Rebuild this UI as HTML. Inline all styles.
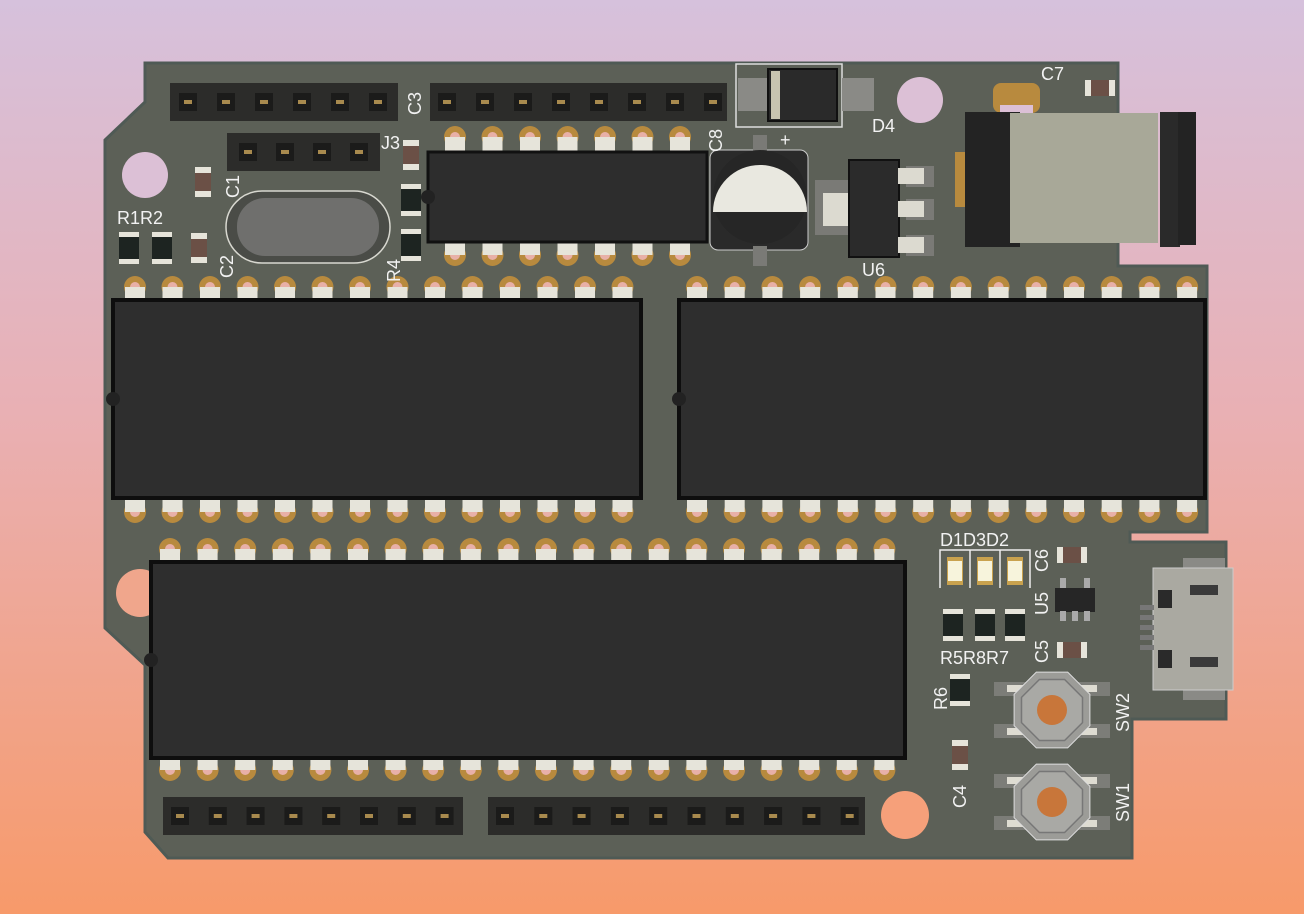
<!DOCTYPE html>
<html><head><meta charset="utf-8"><style>
html,body{margin:0;padding:0;width:1304px;height:914px;overflow:hidden;background:linear-gradient(#d6c1dc 0%,#e9b0b4 45%,#f79a6a 100%);}
svg{display:block}
text{font-family:"Liberation Sans",sans-serif;fill:#f2f2f2;font-size:18px}
</style></head><body>
<svg id="s" width="1304" height="914" viewBox="0 0 1304 914">
<path d="M145,63 L1118,63 L1118,266 L1207,266 L1207,532 L1130,532 L1130,542 L1226,542 L1226,719 L1132,719 L1132,858 L168,858 L145,832 L145,665 L105,628 L105,140 L145,102 Z" fill="#5c6057" stroke="#4f5a55" stroke-width="3"/>
<circle cx="145" cy="175" r="23" fill="#dcc0d6"/>
<circle cx="920" cy="100" r="23" fill="#dcc0d6"/>
<circle cx="140" cy="593" r="24" fill="#f0a68c"/>
<circle cx="905" cy="815" r="24" fill="#f6a07a"/>
<g id="g"></g>
<text x="117" y="224">R1R2</text>
<text x="0" y="0" transform="translate(239,198) rotate(-90)">C1</text>
<text x="0" y="0" transform="translate(233,278) rotate(-90)">C2</text>
<text x="0" y="0" transform="translate(400,282) rotate(-90)">R4</text>
<text x="0" y="0" transform="translate(421,115) rotate(-90)">C3</text>
<text x="381" y="149">J3</text>
<text x="0" y="0" transform="translate(722,152) rotate(-90)">C8</text>
<text x="780" y="146">+</text>
<text x="872" y="132">D4</text>
<text x="862" y="276">U6</text>
<text x="1041" y="80">C7</text>
<text x="940" y="546">D1D3D2</text>
<text x="0" y="0" transform="translate(1048,572) rotate(-90)">C6</text>
<text x="0" y="0" transform="translate(1048,615) rotate(-90)">U5</text>
<text x="0" y="0" transform="translate(1048,663) rotate(-90)">C5</text>
<text x="940" y="664">R5R8R7</text>
<text x="0" y="0" transform="translate(947,710) rotate(-90)">R6</text>
<text x="0" y="0" transform="translate(966,808) rotate(-90)">C4</text>
<text x="0" y="0" transform="translate(1129,732) rotate(-90)">SW2</text>
<text x="0" y="0" transform="translate(1129,822) rotate(-90)">SW1</text>
</svg>
<script>
var g=document.getElementById('g'),h='';
function R(x,y,w,hh,f,extra){h+='<rect x="'+x+'" y="'+y+'" width="'+w+'" height="'+hh+'" fill="'+f+'" '+(extra||'')+'/>';}
function header(x,y,w,n,p0,pitch){R(x,y,w,38,'#2c2c2a');for(var i=0;i<n;i++){var px=p0+i*pitch;R(px-9,y+10,18,18,'#1b1b1a');R(px-4,y+17,8,4,'#a88a4e');}}
header(170,83,228,6,188,38);header(430,83,297,8,447,38);header(227,133,153,4,248,37);
header(163,797,300,8,180,37.8);header(488,797,377,10,505,38.3);
function pins(x0,n,pitch,yt,ydn){for(var i=0;i<n;i++){var x=x0+i*pitch;
 h+='<circle cx="'+x+'" cy="'+yt+'" r="11" fill="#b88a3e"/><circle cx="'+x+'" cy="'+yt+'" r="5" fill="#e8b0a8"/>';R(x-10,yt,20,ydn,'#e6e4da');}}
function pinsB(x0,n,pitch,yb,len){for(var i=0;i<n;i++){var x=x0+i*pitch;
 h+='<circle cx="'+x+'" cy="'+yb+'" r="11" fill="#b88a3e"/><circle cx="'+x+'" cy="'+yb+'" r="5" fill="#e8b0a8"/>';R(x-10,yb-len,20,len,'#e6e4da');}}
pins(455,7,37.5,137,15);pinsB(455,7,37.5,255,13);
R(428,152,279,90,'#2d2d2d','stroke="#111" stroke-width="3"');
pins(135,14,37.5,287,13);pinsB(135,14,37.5,512,14);
R(113,300,528,198,'#2e2e2e','stroke="#0e0e0e" stroke-width="4"');
pins(697,14,37.7,287,13);pinsB(697,14,37.7,512,14);
R(679,300,526,198,'#2e2e2e','stroke="#0e0e0e" stroke-width="4"');
pins(170,20,37.6,549,13);pinsB(170,20,37.6,770,12);
R(151,562,754,196,'#2e2e2e','stroke="#0e0e0e" stroke-width="4"');
h+='<circle cx="113" cy="399" r="7" fill="#222"/><circle cx="679" cy="399" r="7" fill="#222"/><circle cx="151" cy="660" r="7" fill="#222"/><circle cx="428" cy="197" r="7" fill="#222"/>';
R(226,191,164,72,'#4a4c47','rx="36" stroke="#d8d8d0" stroke-width="1.5"');R(237,198,142,58,'#6f6f6d','rx="28"');
function cap(x,y,v){if(v){R(x-8,y-15,16,30,'#6b5046');R(x-8,y-15,16,6,'#e6e4da');R(x-8,y+9,16,6,'#e6e4da');}else{R(x-15,y-8,30,16,'#6b5046');R(x-15,y-8,6,16,'#e6e4da');R(x+9,y-8,6,16,'#e6e4da');}}
function res(x,y){R(x-10,y-16,20,32,'#1d2421');R(x-10,y-16,20,5,'#e6e4da');R(x-10,y+11,20,5,'#e6e4da');}
cap(203,182,1);cap(199,248,1);cap(411,155,1);res(129,248);res(162,248);res(411,200);res(411,245);
cap(1100,88,0);cap(1072,555,0);cap(1072,650,0);cap(960,755,1);res(960,690);res(953,625);res(985,625);res(1015,625);
[955,985,1015].forEach(function(x){R(x-8,557,16,28,'#c9a24e');R(x-7,561,14,20,'#f7f4dc');});
h+='<path d="M940,588 V550 H1030 V588 M970,550 V588 M1000,550 V588" fill="none" stroke="#eee" stroke-width="1.5"/>';
R(1055,588,40,24,'#262626');[1063,1075,1087].forEach(function(x){R(x-3,611,6,10,'#aaa')});R(1060,578,6,10,'#aaa');R(1084,578,6,10,'#aaa');
h+='<rect x="736" y="64" width="106" height="63" fill="none" stroke="#ddd" stroke-width="1.5"/>';
R(738,78,30,33,'#8a8a86');R(842,78,32,33,'#8a8a86');R(768,69,69,52,'#2a2a2a','stroke="#111" stroke-width="2"');R(771,71,9,48,'#c8c4b0');
R(710,150,98,100,'#2a2a2a','rx="8" stroke="#ccc" stroke-width="1"');R(753,135,14,20,'#7a7a76');R(753,246,14,20,'#7a7a76');
h+='<circle cx="760" cy="197" r="47" fill="#262626"/><path d="M713,212 A47,47 0 1 1 807,212 Z" fill="#e9e8e0"/>';
R(815,180,33,55,'#7a7a76');R(823,193,25,33,'#dcdad0');R(849,160,50,97,'#2b2b2b','stroke="#111" stroke-width="2"');
[176,209,245].forEach(function(y){R(906,y-10,28,21,'#7a7a76');R(898,y-8,26,16,'#dcdad0');});
R(993,83,47,30,'#b88a3e','rx="8"');R(1000,105,33,10,'#dcc0d6');
R(955,152,12,55,'#b88a3e');
R(965,112,55,135,'#232323');R(1010,113,148,130,'#a8a898');R(1160,112,20,135,'#2a2a2a');R(1178,112,18,133,'#232323');
R(1183,558,42,13,'#8a8a86');R(1183,687,42,13,'#8a8a86');R(1153,568,80,122,'#aaa9a1','stroke="#ccc" stroke-width="1"');
R(1158,590,14,18,'#2a2a2a');R(1158,650,14,18,'#2a2a2a');R(1190,585,28,10,'#3a3a3a');R(1190,657,28,10,'#3a3a3a');
R(1140,605,14,5,'#777');R(1140,615,14,5,'#777');R(1140,625,14,5,'#777');R(1140,635,14,5,'#777');R(1140,645,14,5,'#777');
function sw(cx,cy){R(cx-58,cy-28,116,14,'#7c7d78');R(cx-58,cy+14,116,14,'#7c7d78');R(cx-45,cy-25,90,7,'#dedcd2');R(cx-45,cy+18,90,7,'#dedcd2');
 var p=[],q=[];for(var i=0;i<8;i++){var a=Math.PI/8+i*Math.PI/4;p.push((cx+41*Math.cos(a)).toFixed(1)+','+(cy+41*Math.sin(a)).toFixed(1));q.push((cx+33*Math.cos(a)).toFixed(1)+','+(cy+33*Math.sin(a)).toFixed(1));}
 h+='<polygon points="'+p.join(' ')+'" fill="#9c9c98" stroke="#ddd" stroke-width="1"/><polygon points="'+q.join(' ')+'" fill="#a9a9a5" stroke="#777" stroke-width="1.5"/><circle cx="'+cx+'" cy="'+cy+'" r="15" fill="#c8763a"/>';}
sw(1052,710);sw(1052,802);
g.innerHTML=h;
</script>
</body></html>
